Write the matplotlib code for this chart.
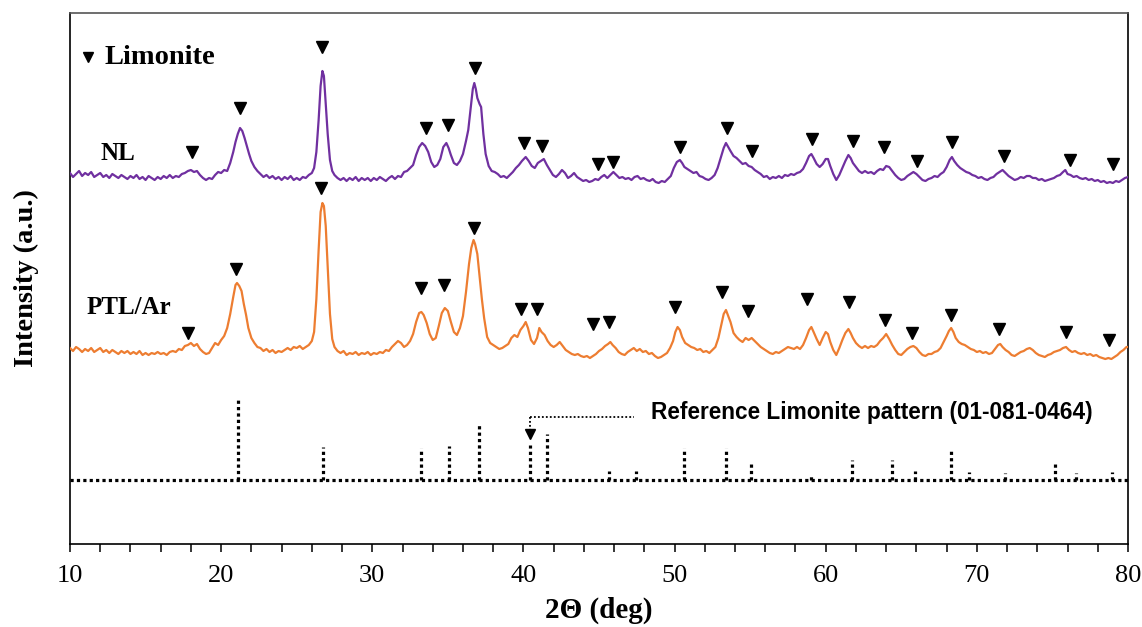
import matplotlib
matplotlib.use("Agg")
import matplotlib.pyplot as plt
from matplotlib.ticker import MultipleLocator

# ---- XRD patterns: (2-theta in degrees, intensity in arbitrary units, stacked) ----
nl_pattern = [
    (10.0, 371), (10.2, 367), (10.4, 370), (10.6, 373), (10.8, 368), (11.0, 371), (11.2, 369),
    (11.4, 372), (11.6, 367), (11.8, 369), (12.0, 371), (12.2, 367), (12.4, 369), (12.6, 366),
    (12.8, 370), (13.0, 368), (13.2, 366), (13.4, 369), (13.6, 367), (13.8, 365), (14.0, 368),
    (14.2, 366), (14.4, 369), (14.6, 365), (14.8, 367), (15.0, 364), (15.2, 368), (15.4, 366),
    (15.6, 364), (15.8, 367), (16.0, 365), (16.2, 368), (16.4, 366), (16.6, 369), (16.8, 366),
    (17.0, 368), (17.2, 367), (17.4, 370), (17.6, 371), (17.8, 373), (18.0, 374), (18.2, 372),
    (18.4, 373), (18.6, 369), (18.8, 366), (19.0, 364), (19.2, 366), (19.4, 365), (19.6, 369),
    (19.8, 372), (20.0, 371), (20.2, 374), (20.4, 373), (20.6, 381), (20.8, 392), (20.95, 402),
    (21.1, 410), (21.25, 416), (21.4, 413), (21.55, 406), (21.7, 398), (21.85, 390), (22.0, 383),
    (22.2, 377), (22.4, 373), (22.6, 370), (22.8, 367), (23.0, 369), (23.2, 366), (23.4, 368),
    (23.6, 365), (23.8, 367), (24.0, 364), (24.2, 367), (24.4, 365), (24.6, 368), (24.8, 364),
    (25.0, 366), (25.2, 364), (25.4, 367), (25.6, 366), (25.8, 369), (26.0, 371), (26.15, 376),
    (26.3, 392), (26.45, 424), (26.58, 458), (26.7, 473), (26.8, 468), (26.92, 440), (27.05, 410),
    (27.2, 384), (27.35, 373), (27.5, 369), (27.7, 366), (27.9, 364), (28.1, 366), (28.3, 363),
    (28.5, 366), (28.7, 364), (28.9, 367), (29.1, 363), (29.3, 366), (29.5, 364), (29.7, 366),
    (29.9, 363), (30.1, 366), (30.3, 364), (30.5, 367), (30.7, 365), (30.9, 363), (31.1, 366),
    (31.3, 368), (31.5, 365), (31.7, 368), (31.9, 367), (32.1, 372), (32.3, 373), (32.5, 376),
    (32.7, 379), (32.9, 389), (33.1, 397), (33.3, 401), (33.5, 398), (33.7, 392), (33.9, 382),
    (34.1, 377), (34.3, 379), (34.5, 385), (34.7, 397), (34.9, 401), (35.05, 396), (35.2, 389),
    (35.4, 381), (35.6, 379), (35.8, 383), (36.0, 390), (36.2, 403), (36.35, 414), (36.5, 435),
    (36.65, 455), (36.75, 461), (36.85, 455), (36.95, 446), (37.1, 440), (37.2, 437), (37.35, 410),
    (37.5, 390), (37.7, 378), (37.9, 373), (38.1, 372), (38.3, 370), (38.5, 367), (38.7, 368),
    (38.9, 366), (39.1, 369), (39.3, 372), (39.5, 376), (39.7, 379), (39.9, 383), (40.15, 387),
    (40.35, 383), (40.55, 378), (40.75, 376), (40.95, 381), (41.15, 383), (41.35, 385), (41.55, 379),
    (41.75, 374), (41.95, 369), (42.15, 367), (42.35, 370), (42.55, 374), (42.75, 371), (42.95, 366),
    (43.15, 368), (43.35, 371), (43.55, 367), (43.75, 365), (43.95, 363), (44.15, 364), (44.35, 362),
    (44.55, 363), (44.75, 365), (44.95, 364), (45.15, 367), (45.35, 369), (45.55, 366), (45.75, 369),
    (45.95, 372), (46.15, 369), (46.35, 366), (46.55, 367), (46.75, 365), (46.95, 366), (47.15, 364),
    (47.35, 367), (47.55, 368), (47.75, 365), (47.95, 366), (48.15, 364), (48.35, 363), (48.55, 365),
    (48.75, 362), (48.95, 361), (49.15, 363), (49.35, 362), (49.55, 365), (49.75, 368), (49.95, 376),
    (50.15, 382), (50.35, 384), (50.5, 381), (50.65, 377), (50.85, 375), (51.05, 373), (51.25, 371),
    (51.45, 372), (51.65, 368), (51.85, 367), (52.05, 365), (52.25, 364), (52.45, 366), (52.65, 369),
    (52.85, 376), (53.05, 386), (53.25, 396), (53.4, 401), (53.55, 397), (53.7, 393), (53.9, 388),
    (54.1, 386), (54.3, 383), (54.5, 380), (54.7, 381), (54.9, 378), (55.1, 377), (55.3, 374),
    (55.5, 372), (55.7, 370), (55.9, 367), (56.1, 368), (56.3, 365), (56.5, 367), (56.7, 366),
    (56.9, 368), (57.1, 366), (57.3, 369), (57.5, 368), (57.7, 370), (57.9, 369), (58.1, 371),
    (58.3, 372), (58.5, 375), (58.7, 381), (58.9, 388), (59.05, 390), (59.2, 386), (59.4, 380),
    (59.6, 377), (59.8, 380), (60.0, 385), (60.15, 385), (60.3, 378), (60.5, 370), (60.7, 364),
    (60.9, 369), (61.1, 376), (61.3, 383), (61.5, 389), (61.65, 386), (61.8, 381), (62.0, 377),
    (62.2, 373), (62.4, 371), (62.6, 373), (62.8, 371), (63.0, 372), (63.2, 370), (63.4, 373),
    (63.6, 375), (63.8, 374), (64.0, 378), (64.2, 377), (64.4, 373), (64.6, 369), (64.8, 366),
    (65.0, 364), (65.2, 365), (65.4, 368), (65.6, 370), (65.8, 372), (66.0, 370), (66.2, 367),
    (66.4, 364), (66.6, 363), (66.8, 365), (67.0, 366), (67.2, 368), (67.4, 367), (67.6, 370),
    (67.8, 372), (68.0, 377), (68.2, 384), (68.35, 387), (68.5, 383), (68.7, 379), (68.9, 376),
    (69.1, 374), (69.3, 372), (69.5, 371), (69.7, 369), (69.9, 368), (70.1, 366), (70.3, 367),
    (70.5, 365), (70.7, 364), (70.9, 366), (71.1, 367), (71.3, 370), (71.5, 372), (71.7, 374),
    (71.9, 371), (72.1, 368), (72.3, 366), (72.5, 364), (72.7, 365), (72.9, 367), (73.1, 366),
    (73.3, 368), (73.5, 368), (73.7, 366), (73.9, 366), (74.1, 364), (74.3, 365), (74.5, 363),
    (74.7, 364), (74.9, 365), (75.1, 366), (75.3, 368), (75.5, 369), (75.7, 372), (75.85, 374),
    (76.0, 370), (76.2, 369), (76.4, 367), (76.6, 368), (76.8, 366), (77.0, 365), (77.2, 366),
    (77.4, 364), (77.6, 365), (77.8, 363), (78.0, 364), (78.2, 362), (78.4, 363), (78.6, 361),
    (78.8, 362), (79.0, 361), (79.2, 363), (79.4, 362), (79.6, 364), (79.8, 366), (80.0, 367),
]

ptl_pattern = [
    (10.0, 196), (10.2, 193), (10.4, 197), (10.6, 195), (10.8, 192), (11.0, 195), (11.2, 193),
    (11.4, 196), (11.6, 192), (11.8, 194), (12.0, 196), (12.2, 192), (12.4, 194), (12.6, 191),
    (12.8, 194), (13.0, 192), (13.2, 190), (13.4, 193), (13.6, 191), (13.8, 193), (14.0, 190),
    (14.2, 192), (14.4, 190), (14.6, 193), (14.8, 189), (15.0, 191), (15.2, 189), (15.4, 191),
    (15.6, 190), (15.8, 192), (16.0, 190), (16.2, 191), (16.4, 189), (16.6, 192), (16.8, 193),
    (17.0, 192), (17.2, 195), (17.4, 194), (17.6, 198), (17.8, 199), (18.0, 201), (18.2, 198),
    (18.4, 200), (18.6, 195), (18.8, 192), (19.0, 190), (19.2, 191), (19.4, 196), (19.6, 201),
    (19.8, 199), (20.0, 204), (20.2, 208), (20.4, 216), (20.6, 230), (20.8, 247), (20.95, 259),
    (21.05, 261), (21.2, 258), (21.35, 253), (21.5, 240), (21.65, 229), (21.8, 216), (22.0, 206),
    (22.2, 201), (22.4, 197), (22.6, 196), (22.8, 193), (23.0, 195), (23.2, 192), (23.4, 194),
    (23.6, 191), (23.8, 193), (24.0, 192), (24.2, 194), (24.4, 196), (24.6, 194), (24.8, 197),
    (25.0, 196), (25.2, 198), (25.4, 195), (25.6, 197), (25.8, 199), (26.0, 203), (26.15, 212),
    (26.3, 245), (26.45, 294), (26.58, 332), (26.7, 341), (26.8, 338), (26.92, 318), (27.05, 278),
    (27.2, 230), (27.35, 205), (27.5, 197), (27.7, 193), (27.9, 191), (28.1, 193), (28.3, 189),
    (28.5, 191), (28.7, 190), (28.9, 192), (29.1, 189), (29.3, 191), (29.5, 190), (29.7, 192),
    (29.9, 189), (30.1, 191), (30.3, 190), (30.5, 192), (30.7, 191), (30.9, 194), (31.1, 193),
    (31.3, 197), (31.5, 200), (31.7, 203), (31.9, 201), (32.1, 197), (32.3, 199), (32.5, 203),
    (32.7, 210), (32.9, 222), (33.1, 231), (33.25, 232), (33.4, 229), (33.6, 221), (33.8, 210),
    (34.0, 204), (34.2, 206), (34.4, 218), (34.6, 231), (34.8, 236), (35.0, 233), (35.2, 222),
    (35.4, 212), (35.6, 209), (35.8, 216), (36.0, 228), (36.2, 252), (36.4, 280), (36.55, 296),
    (36.7, 304), (36.8, 300), (36.95, 290), (37.1, 267), (37.25, 245), (37.4, 226), (37.6, 207),
    (37.8, 201), (38.0, 199), (38.2, 197), (38.4, 195), (38.6, 196), (38.8, 198), (39.0, 200),
    (39.2, 206), (39.4, 209), (39.6, 207), (39.8, 214), (40.0, 218), (40.15, 222), (40.3, 216),
    (40.5, 204), (40.7, 200), (40.9, 206), (41.05, 216), (41.2, 212), (41.4, 209), (41.6, 203),
    (41.8, 199), (42.0, 197), (42.2, 199), (42.4, 202), (42.6, 198), (42.8, 194), (43.0, 192),
    (43.2, 190), (43.4, 189), (43.6, 190), (43.8, 188), (44.0, 187), (44.2, 188), (44.4, 186),
    (44.6, 188), (44.8, 190), (45.0, 193), (45.2, 195), (45.4, 198), (45.6, 200), (45.75, 202),
    (45.9, 199), (46.1, 196), (46.3, 192), (46.5, 190), (46.7, 189), (46.9, 192), (47.1, 194),
    (47.3, 196), (47.5, 193), (47.7, 195), (47.9, 192), (48.1, 193), (48.3, 190), (48.5, 191),
    (48.7, 188), (48.9, 186), (49.1, 187), (49.3, 189), (49.5, 191), (49.7, 196), (49.9, 203),
    (50.05, 212), (50.2, 217), (50.35, 214), (50.5, 207), (50.7, 201), (50.9, 199), (51.1, 197),
    (51.3, 196), (51.5, 194), (51.7, 195), (51.9, 192), (52.1, 193), (52.3, 191), (52.5, 194),
    (52.7, 197), (52.9, 206), (53.1, 220), (53.25, 230), (53.4, 234), (53.55, 228), (53.7, 222),
    (53.9, 211), (54.1, 207), (54.3, 204), (54.5, 202), (54.7, 206), (54.9, 204), (55.1, 206),
    (55.3, 203), (55.5, 200), (55.7, 197), (55.9, 195), (56.1, 193), (56.3, 191), (56.5, 190),
    (56.7, 192), (56.9, 191), (57.1, 193), (57.3, 195), (57.5, 197), (57.7, 196), (57.9, 195),
    (58.1, 197), (58.3, 195), (58.5, 199), (58.7, 206), (58.9, 214), (59.05, 217), (59.2, 212),
    (59.4, 205), (59.6, 199), (59.8, 206), (60.0, 212), (60.15, 210), (60.3, 202), (60.5, 194),
    (60.7, 189), (60.9, 196), (61.1, 204), (61.3, 211), (61.5, 215), (61.65, 211), (61.8, 206),
    (62.0, 201), (62.2, 198), (62.4, 196), (62.6, 198), (62.8, 196), (63.0, 198), (63.2, 197),
    (63.4, 199), (63.6, 203), (63.8, 206), (64.0, 210), (64.2, 205), (64.4, 199), (64.6, 194),
    (64.8, 190), (65.0, 189), (65.2, 192), (65.4, 195), (65.6, 197), (65.8, 198), (66.0, 196),
    (66.2, 192), (66.4, 189), (66.6, 188), (66.8, 190), (67.0, 190), (67.2, 192), (67.4, 193),
    (67.6, 196), (67.8, 202), (68.0, 208), (68.15, 213), (68.3, 216), (68.45, 212), (68.6, 206),
    (68.8, 202), (69.0, 200), (69.2, 199), (69.4, 197), (69.6, 195), (69.8, 194), (70.0, 192),
    (70.2, 193), (70.4, 191), (70.6, 192), (70.8, 190), (71.0, 191), (71.2, 195), (71.4, 199),
    (71.55, 200), (71.7, 197), (71.9, 194), (72.1, 192), (72.3, 189), (72.5, 188), (72.7, 190),
    (72.9, 192), (73.1, 193), (73.3, 195), (73.5, 196), (73.7, 194), (73.9, 191), (74.1, 189),
    (74.3, 188), (74.5, 187), (74.7, 189), (74.9, 190), (75.1, 192), (75.3, 193), (75.5, 194),
    (75.7, 196), (75.9, 197), (76.1, 194), (76.3, 192), (76.5, 193), (76.7, 191), (76.9, 190),
    (77.1, 191), (77.3, 189), (77.5, 190), (77.7, 188), (77.9, 189), (78.1, 187), (78.3, 186),
    (78.5, 185), (78.7, 186), (78.9, 185), (79.1, 187), (79.3, 189), (79.5, 192), (79.7, 194),
    (79.9, 197), (80.0, 197),
]

# ---- Limonite peak markers ----
nl_marker_theta = [18.07, 21.25, 26.67, 33.55, 35.01, 36.80, 40.04, 41.23, 44.93, 45.93, 50.36,
                   53.47, 55.12, 59.09, 61.81, 63.86, 66.04, 68.36, 71.80, 76.16, 79.01]
nl_marker_height = [392, 436, 497, 416, 419, 476, 401, 398, 380, 382, 397,
                    416, 393, 405, 403, 397, 383, 402, 388, 384, 380]
ptl_marker_theta = [17.81, 20.98, 26.61, 33.22, 34.75, 36.73, 39.84, 40.90, 44.60, 45.66, 50.03,
                    53.14, 54.86, 58.76, 61.54, 63.92, 65.71, 68.29, 71.47, 75.90, 78.75]
ptl_marker_height = [211, 275, 356, 256, 259, 316, 235, 235, 220, 222, 237,
                     252, 233, 245, 242, 224, 211, 229, 215, 212, 204]

# ---- Reference limonite pattern (01-081-0464), relative intensities in % ----
ref_two_theta = [21.12, 26.76, 33.22, 35.05, 37.05, 40.46, 41.58, 45.63, 47.47, 50.61, 53.42,
                 55.04, 59.0, 61.77, 64.37, 65.9, 68.28, 69.46, 71.87, 75.16, 76.54, 78.97]
ref_rel_intensity = [100, 41, 40, 42, 68, 43, 57, 11, 11, 40, 40,
                     23, 7, 25, 25, 11, 36, 10, 9, 23, 9, 10]

x_ticks = [10, 20, 30, 40, 50, 60, 70, 80]

ref_base = 64      # level of the reference pattern baseline
ref_full = 81      # drawn length of a 100 % reference line

nl_color = "#7030A0"
ptl_color = "#ED7D31"
serif = "Liberation Serif"
sans = "Liberation Sans"

nl_theta, nl_int = zip(*nl_pattern)
ptl_theta, ptl_int = zip(*ptl_pattern)

fig = plt.figure(figsize=(11.42, 6.27), dpi=100)
ax = fig.add_axes([70 / 1142, 83 / 627, 1058 / 1142, 531 / 627])

ax.plot(nl_theta, nl_int, color=nl_color, lw=1.6, zorder=3)
ax.plot(ptl_theta, ptl_int, color=ptl_color, lw=1.6, zorder=3)

ax.plot(nl_marker_theta, nl_marker_height, ls="none", marker="v", ms=9, color="black", zorder=4)
ax.plot(ptl_marker_theta, ptl_marker_height, ls="none", marker="v", ms=9, color="black", zorder=4)

# reference stick pattern
dot = (0, (1, 1))
ax.plot([10, 80], [ref_base, ref_base], color="black", lw=2.3, ls=dot, dash_capstyle="butt")
for t, r in zip(ref_two_theta, ref_rel_intensity):
    ax.plot([t, t], [ref_base, ref_base + ref_full * r / 100.0], color="black",
            lw=2.3, ls=dot, dash_capstyle="butt")

# callout pointing at the reference pattern
arrow_x = ref_two_theta[5]
ax.plot([arrow_x, 47.3], [127, 127], color="black", lw=1.3, ls=(0, (1, 1.2)))
ax.plot([arrow_x, arrow_x], [127, 113], color="black", lw=1.3, ls=(0, (1, 1.2)))
ax.plot([arrow_x], [110], marker="v", ms=7.5, color="black", ls="none")
ax.text(48.45, 131, "Reference Limonite pattern (01-081-0464)", fontfamily=sans,
        fontweight="bold", fontsize=16.3, ha="left", va="center")

# sample labels and legend
ax.text(12.0, 391, "NL", fontfamily=serif, fontweight="bold", fontsize=18, ha="left", va="center")
ax.text(11.1, 236, "PTL/Ar", fontfamily=serif, fontweight="bold", fontsize=18, ha="left", va="center")
ax.plot([11.2], [487], marker="v", ms=7.5, color="black", ls="none")
ax.text(12.3, 487, "Limonite", fontfamily=serif, fontweight="bold", fontsize=20.5, ha="left", va="center")

ax.set_xlim(10, 80)
ax.set_ylim(0, 531)
ax.set_xticks(x_ticks)
ax.xaxis.set_minor_locator(MultipleLocator(2))
ax.set_yticks([])
ax.tick_params(axis="x", which="both", direction="out", length=6, width=1.1, color="black", pad=9)
for lbl in ax.get_xticklabels():
    lbl.set_fontfamily(serif)
    lbl.set_fontsize(19)
for s in ax.spines.values():
    s.set_linewidth(1.2)
    s.set_color("black")
ax.spines["top"].set_color("#555555")

ax.set_xlabel("2\u0398 (deg)", fontfamily=serif, fontweight="bold", fontsize=21, labelpad=7)
ax.set_ylabel("Intensity (a.u.)", fontfamily=serif, fontweight="bold", fontsize=20.5, labelpad=22)

fig.savefig("out.png", dpi=100)
